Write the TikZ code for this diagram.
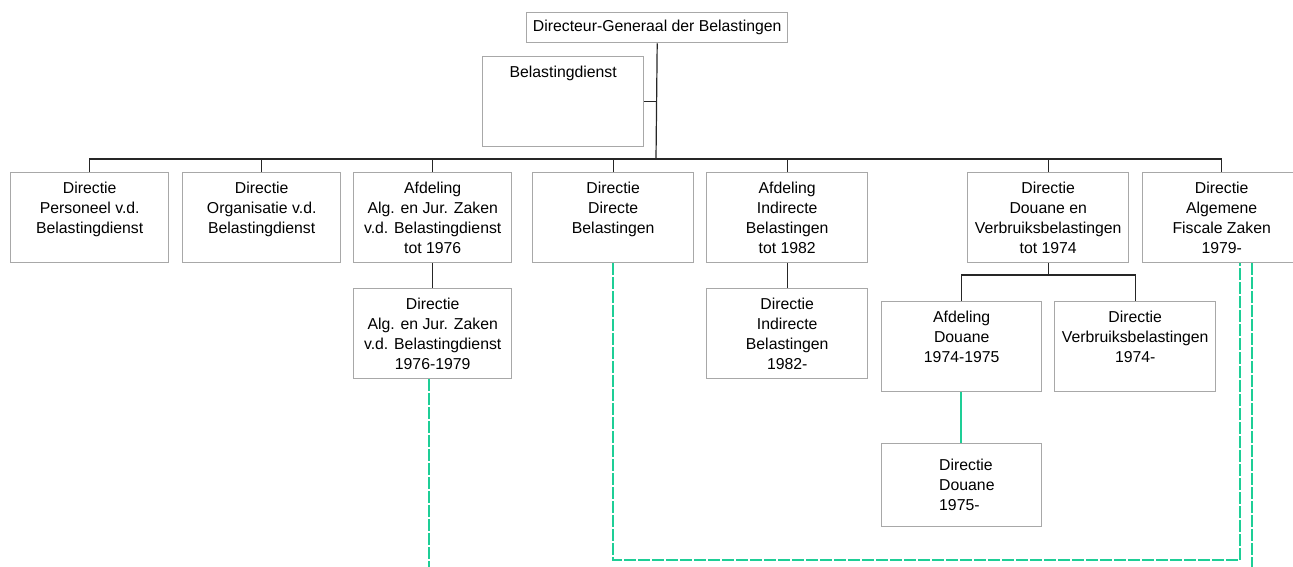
\documentclass[tikz,border=0pt]{standalone}
\usepackage{fontspec}
\setmainfont{Liberation Sans}
\usepackage{xcolor}
\usetikzlibrary{positioning}
\definecolor{boxgray}{RGB}{168,168,168}
\definecolor{linkgreen}{RGB}{30,206,150}

\begin{document}
\begin{tikzpicture}[x=1pt, y=-1pt,
    every node/.style={font={\fontsize{15.8pt}{20pt}\selectfont}},
    orgbox/.style={draw=boxgray, line width=1.4pt, anchor=north west, minimum height=90pt, inner sep=0pt},
    orgtext/.style={align=center, inner sep=0pt, anchor=north},
    conn/.style={line width=1.2pt, black!85},
    greenlink/.style={line width=1.4pt, linkgreen},
    greendash/.style={line width=1.4pt, linkgreen, dash pattern=on 12pt off 2pt}]
   % Page frame (fixes the margins)
   \useasboundingbox (0,0) rectangle (1293,567);

    % Top
    \node[orgbox, minimum width=261pt, minimum height=30pt] (dg) at (526,12) {Directeur-Generaal der Belastingen};
    \node[orgbox, minimum width=161pt] (bd) at (482,56) {};
    \node[orgtext, below=10pt of bd.north] (bdT) {Belastingdienst};

    % First row
    \node[orgbox, minimum width=158pt] (dp) at (10,172) {};
    \node[orgtext, below=10pt of dp.north] (dpT) {Directie\\Personeel v.d.\\Belastingdienst};
    \node[orgbox, minimum width=158pt] (do) at (182,172) {};
    \node[orgtext, below=10pt of do.north] (doT) {Directie\\Organisatie v.d.\\Belastingdienst};
    \node[orgbox, minimum width=158pt] (aaj) at (353,172) {};
    \node[orgtext, below=10pt of aaj.north] (aajT) {Afdeling\\Alg. en Jur. Zaken\\v.d. Belastingdienst\\tot 1976};
    \node[orgbox, minimum width=161pt] (ddb) at (532,172) {};
    \node[orgtext, below=10pt of ddb.north] (ddbT) {Directie\\Directe\\Belastingen};
    \node[orgbox, minimum width=161pt] (aib) at (706,172) {};
    \node[orgtext, below=10pt of aib.north] (aibT) {Afdeling\\Indirecte\\Belastingen\\tot 1982};
    \node[orgbox, minimum width=161pt] (ddv) at (967,172) {};
    \node[orgtext, below=10pt of ddv.north] (ddvT) {Directie\\Douane en\\Verbruiksbelastingen\\tot 1974};
    \node[orgbox, minimum width=158pt] (dafz) at (1142,172) {};
    \node[orgtext, below=10pt of dafz.north] (dafzT) {Directie\\Algemene\\Fiscale Zaken\\1979-};

    % Second row
    \node[orgbox, minimum width=158pt] (djz) at (353,288) {};
    \node[orgtext, below=10pt of djz.north] (djzT) {Directie\\Alg. en Jur. Zaken\\v.d. Belastingdienst\\1976-1979};
    \node[orgbox, minimum width=161pt] (dib) at (706,288) {};
    \node[orgtext, below=10pt of dib.north] (dibT) {Directie\\Indirecte\\Belastingen\\1982-};
    \node[orgbox, minimum width=160pt] (ad) at (881,301) {};
    \node[orgtext, below=10pt of ad.north] (adT) {Afdeling\\Douane\\1974-1975};
    \node[orgbox, minimum width=161pt] (dv) at (1054,301) {};
    \node[orgtext, below=10pt of dv.north] (dvT) {Directie\\Verbruiksbelastingen\\1974-};
    \node[orgbox, minimum width=160pt, minimum height=83pt] (ddo) at (881,443) {};
    \node[orgtext, align=left, anchor=north west] (ddoT) at (939,459) {Directie\\Douane\\1975-};

    % Tree lines
    \coordinate (bus) at (656,159);
    \draw[conn] (dg.south) -- (bus);
    \draw[conn] (bd.east) -- (bd.east -| dg.south);
    \draw[conn] (dp.north) -- (dp.north |- bus) -| (dafz.north);
    \foreach \n in {do,aaj,ddb,aib,ddv}
      \draw[conn] (\n.north) -- (\n.north |- bus);
    \draw[conn] (aaj.south) -- (djz.north);
    \draw[conn] (aib.south) -- (dib.north);
    \draw[conn] (ddv.south) -- ++(0,13);
    \draw[conn] (ad.north) -- ++(0,-26) -| (dv.north);

    % Successor links
    \coordinate (douaneLink) at (961,0);
    \draw[greenlink] (douaneLink |- ad.south) -- (douaneLink |- ddo.north);
    \coordinate (endA) at (429,567);
    \draw[greendash] (endA |- djz.south) -- (endA);
    \coordinate (loopL) at (613,0);
    \coordinate (loopR) at (1240,560);
    \draw[greendash] (loopL |- ddb.south) |- (loopR) -- (loopR |- dafz.south);
    \coordinate (endB) at (1252,567);
    \draw[greendash] (endB |- dafz.south) -- (endB);
\end{tikzpicture}
\end{document}
